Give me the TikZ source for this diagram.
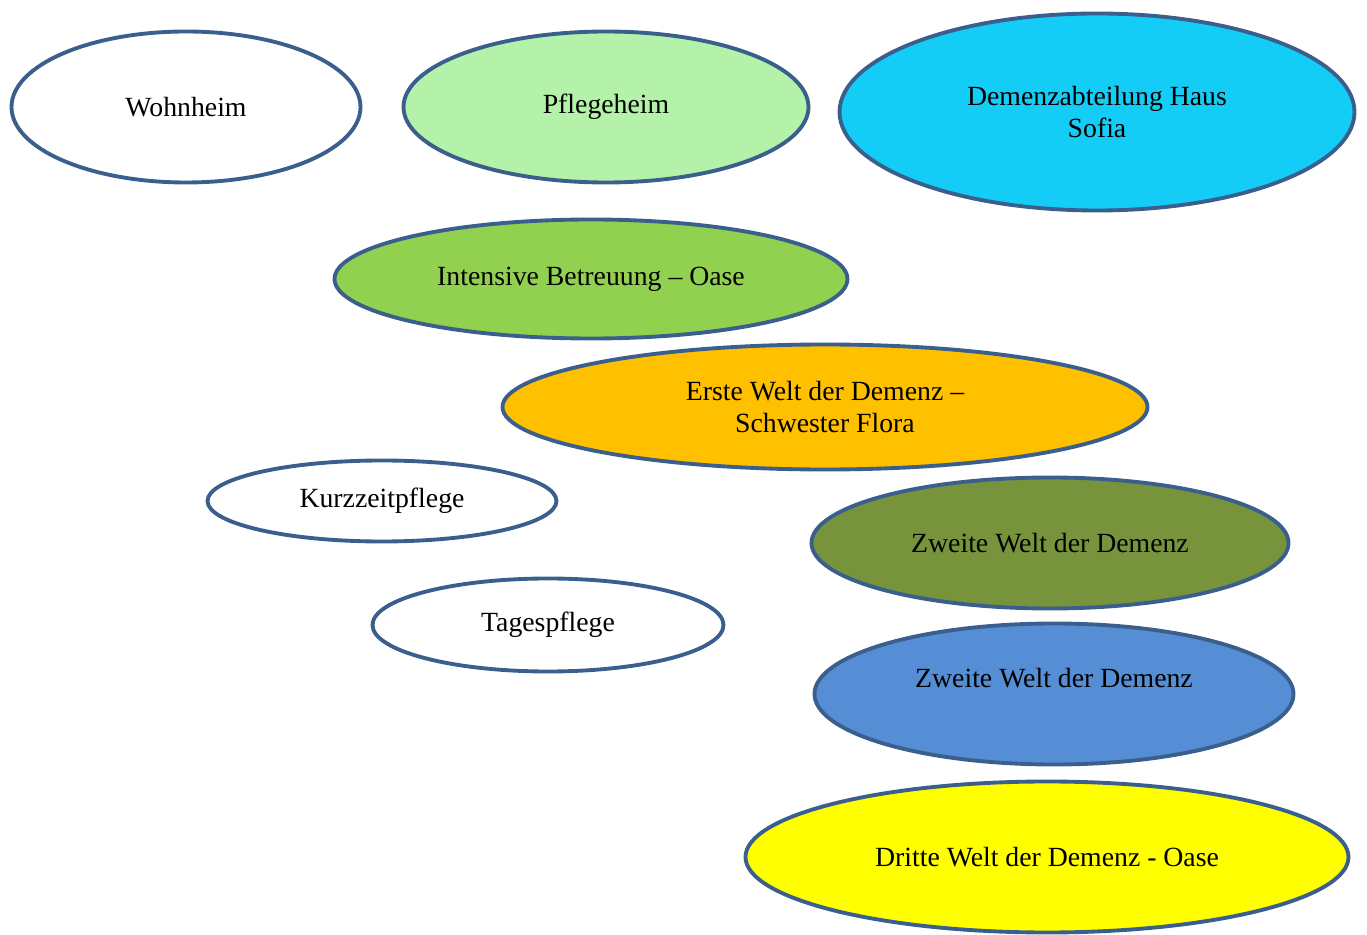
\documentclass[tikz,border=0pt]{standalone}
\usepackage{fontspec}
\setmainfont{Liberation Serif}
\usetikzlibrary{shapes.geometric}

\definecolor{rim}{HTML}{3A5F8C}
\definecolor{lightgreen}{HTML}{B3F2A8}
\definecolor{skyblue}{HTML}{14CDF7}
\definecolor{leafgreen}{HTML}{92D050}
\definecolor{amber}{HTML}{FFC000}
\definecolor{olive}{HTML}{77933C}
\definecolor{midblue}{HTML}{558ED5}
\definecolor{brightyellow}{HTML}{FFFF00}

\tikzset{
	area/.style={ellipse, draw=rim, line width=2.2pt, inner sep=0pt, align=center,
		font=\fontsize{15.8}{18.7}\selectfont, fill=white},
	areasize/.style 2 args={minimum width=#1*0.02cm, minimum height=#2*0.02cm},
}

\begin{document}
\begin{tikzpicture}[x=0.02cm, y=-0.02cm]

	\useasboundingbox (0,0) rectangle (1367,935);

	% top row
	\node[area, areasize={349}{151}] (wohnheim) at (186,107) {Wohnheim};
	\node[area, fill=lightgreen, areasize={405}{151}] (pflegeheim) at (606,107) {Pflegeheim};
	\node[area, fill=skyblue, areasize={515}{197}] (sofia) at (1097,112) {Demenzabteilung Haus\\Sofia};

	% middle
	\node[area, fill=leafgreen, areasize={513}{119}] (oase) at (591,279) {Intensive Betreuung -- Oase};
	\node[area, fill=amber, areasize={645}{125}] (erste) at (825,407) {Erste Welt der Demenz --\\Schwester Flora};

	% left small ones
	\node[area, areasize={349}{81}] (kurzzeit) at (382,501) {Kurzzeitpflege};
	\node[area, areasize={351}{93}] (tages) at (548,625) {Tagespflege};

	% right column
	\node[area, fill=olive, areasize={477}{131}] (zweiteA) at (1050,543) {Zweite Welt der Demenz};
	\node[area, fill=midblue, areasize={479}{141}] (zweiteB) at (1054,694) {Zweite Welt der Demenz\\~};
	\node[area, fill=brightyellow, areasize={603}{151}] (dritte) at (1047,857) {Dritte Welt der Demenz - Oase};

\end{tikzpicture}
\end{document}
